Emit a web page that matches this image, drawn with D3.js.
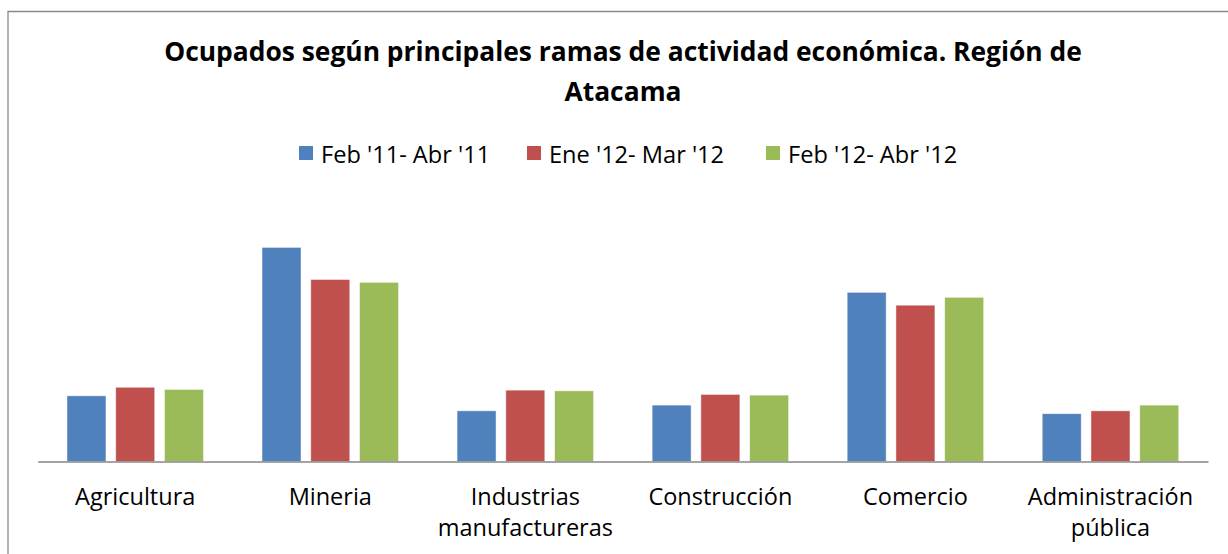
<!DOCTYPE html>
<html>
<head>
<meta charset="utf-8">
<title>Ocupados Atacama</title>
<script src="https://cdn.jsdelivr.net/npm/d3@7"></script>
<style>
  body { margin: 0; background: #fff; }
  text { font-family: "Open Sans", "Liberation Sans", sans-serif; fill: #000; }
</style>
</head>
<body>
<script>
// data (thousands of people, approx.)
var categories = ["Agricultura", "Mineria", "Industrias manufactureras", "Construcción", "Comercio", "Administración pública"];
var catLines = [["Agricultura"], ["Mineria"], ["Industrias", "manufactureras"], ["Construcción"], ["Comercio"], ["Administración", "pública"]];
var seriesNames = ["Feb '11- Abr '11", "Ene '12- Mar '12", "Feb '12- Abr '12"];
var seriesColors = ["#4f81bd", "#c0504d", "#9bbb59"];
var feb11 = [9.2, 30.0, 7.1, 7.9, 23.7, 6.7];
var ene12 = [10.4, 25.5, 10.0, 9.4, 21.9, 7.1];
var feb12 = [10.1, 25.1, 9.9, 9.3, 23.0, 7.9];
var series = [feb11, ene12, feb12];

var W = 1228, H = 554;
var svg = d3.select("body").append("svg")
    .attr("width", W)
    .attr("height", H);

// chart frame (right and bottom edges are cut off in the picture)
svg.append("path")
    .attr("d", "M8,554V11.5H1228")
    .attr("fill", "none")
    .attr("stroke", "#888")
    .attr("stroke-width", 1.3);

// title
var title = svg.append("text")
    .attr("text-anchor", "middle")
    .style("font-weight", "bold")
    .style("font-size", "26.4px");
title.append("tspan").attr("x", 623).attr("y", 61).text("Ocupados según principales ramas de actividad económica. Región de");
title.append("tspan").attr("x", 623).attr("y", 101).text("Atacama");

// legend
var legendX = [299, 527, 766];
var legend = svg.selectAll("g.leg").data(seriesNames).enter().append("g")
    .attr("class", "leg")
    .attr("transform", function(d, i) { return "translate(" + legendX[i] + ",146)"; });
legend.append("rect")
    .attr("width", 14).attr("height", 14)
    .attr("fill", function(d, i) { return seriesColors[i]; });
legend.append("text")
    .attr("x", 22).attr("y", 17)
    .style("font-size", "23.6px")
    .text(function(d) { return d; });

// scales
var x0 = d3.scaleBand().domain(categories).range([37.7, 1208]).paddingInner(0.3).paddingOuter(0.15);
var x1 = d3.scaleBand().domain([0, 1, 2]).range([0, x0.bandwidth()]).paddingInner(0.2).paddingOuter(0);
var y = d3.scaleLinear().domain([0, 40]).range([461.5, 176]);

// bars
var groups = svg.selectAll("g.cat").data(categories).enter().append("g")
    .attr("class", "cat")
    .attr("transform", function(d) { return "translate(" + x0(d) + ",0)"; });
groups.selectAll("rect")
    .data(function(d, ci) { return series.map(function(s, si) { return { si: si, v: s[ci] }; }); })
    .enter().append("rect")
    .attr("x", function(d) { return x1(d.si); })
    .attr("width", x1.bandwidth())
    .attr("y", function(d) { return y(d.v); })
    .attr("height", function(d) { return y(0) - y(d.v); })
    .attr("fill", function(d) { return seriesColors[d.si]; })
    .attr("stroke", "#fff")
    .attr("stroke-opacity", 0.6)
    .attr("stroke-width", 0.8);

// x axis
var xAxis = d3.axisBottom(x0).tickSize(0).tickFormat("");
var ax = svg.append("g").attr("transform", "translate(0," + y(0) + ")").call(xAxis);
ax.select(".domain").attr("stroke", "#868686").attr("stroke-width", 1.6);

// category labels (wrapped as in the picture)
var labels = svg.selectAll("text.cat").data(categories).enter().append("text")
    .attr("class", "cat")
    .attr("text-anchor", "middle")
    .style("font-size", "23.5px");
labels.each(function(d, i) {
  var t = d3.select(this);
  catLines[i].forEach(function(line, j) {
    t.append("tspan")
      .attr("x", x0(d) + x0.bandwidth() / 2)
      .attr("y", 505 + j * 31)
      .text(line);
  });
});
</script>
</body>
</html>
